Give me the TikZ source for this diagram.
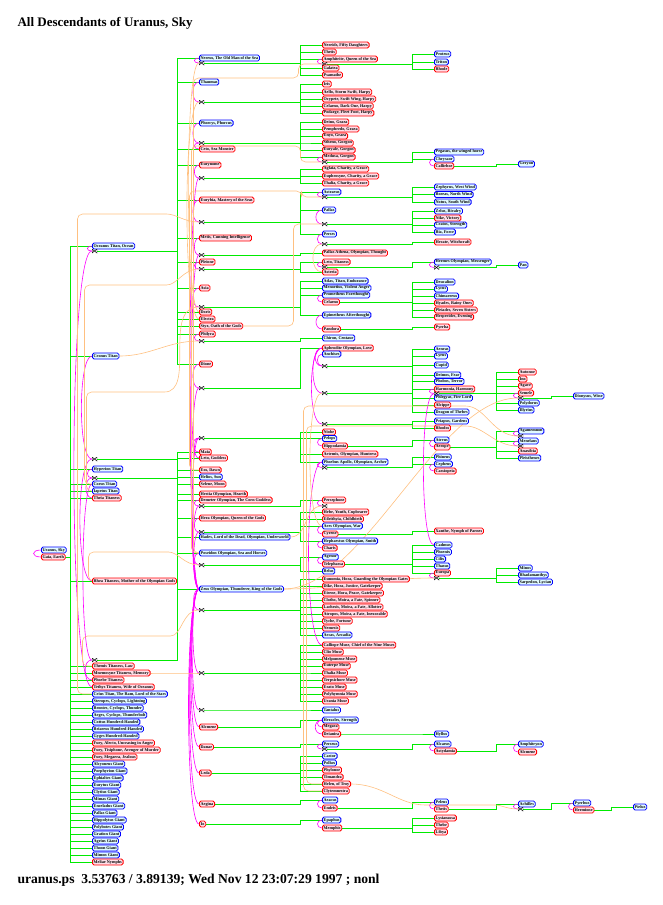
\documentclass[tikz,border=0pt]{standalone}
\usepackage{fontspec}
\setmainfont{Liberation Serif}
\usepackage{tikz}
\usetikzlibrary{calc}
\definecolor{maleline}{RGB}{0,0,255}
\definecolor{malefill}{RGB}{225,250,255}
\definecolor{femline}{RGB}{255,0,0}
\definecolor{femfill}{RGB}{255,222,232}
\definecolor{kingreen}{RGB}{0,235,0}
\definecolor{wedpink}{RGB}{255,0,255}
\definecolor{linkorange}{RGB}{255,192,128}
\pgfdeclarelayer{background}
\pgfsetlayers{background,main}
\newcommand{\tagfont}{\fontsize{4.2}{4.6}\selectfont\bfseries}
\tikzset{kin/.style = {draw=kingreen, line width=0.6pt},
  wed/.style = {draw=wedpink, line width=0.6pt},
  link/.style = {draw=linkorange, line width=0.6pt, rounded corners=5pt}
}

\begin{document}
\begin{tikzpicture}[x=1pt, y=-1pt]
\useasboundingbox (0,0) rectangle (662,905);
% vertices
\tikzstyle{male} = [rectangle, draw=maleline, fill=malefill, line width=0.8pt, rounded corners=1.6pt, inner xsep=1.3pt, inner ysep=0.3pt, minimum height=6pt, anchor=west, font=\tagfont]
\tikzstyle{female} = [male, draw=femline, fill=femfill]
\tikzstyle{wedding} = [rectangle, inner sep=0pt, minimum width=5pt, minimum height=4pt, path picture={\draw[black, line width=0.5pt] (path picture bounding box.south west) -- (path picture bounding box.north east) -- (path picture bounding box.south east) -- (path picture bounding box.north west) -- cycle;}]

\node[anchor=base west, font=\fontsize{13}{15}\selectfont\bfseries] (title) at (14,26) {All Descendants of Uranus, Sky};
\node[anchor=base west, font=\fontsize{13.6}{15}\selectfont\bfseries] (stamp) at (14,883) {uranus.ps\ \ 3.53763 / 3.89139; Wed Nov 12 23:07:29 1997 ; nonl};

% first generation
\node[male] (uranus) at (41,550) {Uranus, Sky};
\node[female] (gaia) at (41,557) {Gaia, Earth};

% second generation
\node[male] (oceanus) at (92,246) {Oceanus Titan, Ocean};
\node[wedding] (moc) at (94.5,251) {};
\node[male] (cronus) at (92,356) {Cronus Titan};
\node[wedding] (mcr) at (94.5,459) {};
\node[male] (hyperion) at (92,469) {Hyperion Titan};
\node[wedding] (mhy) at (94.5,478) {};
\node[male] (coeus) at (92,484) {Coeus Titan};
\node[male] (iapetus) at (92,491) {Iapetus Titan};
\node[female] (theia) at (92,498) {Theia Titaness};
\node[female] (rhea) at (92,581) {Rhea Titaness, Mother of the Olympian Gods};
\node[wedding] (mrh) at (94.5,660) {};
\node[female] (themis) at (92,666) {Themis Titaness, Law};
\node[female] (mnemosyne) at (92,673) {Mnemosyne Titaness, Memory};
\node[female] (phoebe) at (92,680) {Phoebe Titaness};
\node[female] (tethys) at (92,687) {Tethys Titaness, Wife of Oceanus};
\node[male] (crius) at (92,694) {Crius Titan, The Ram, Lord of the Stars};
\node[male] (steropes) at (92,701) {Steropes, Cyclops, Lightning};
\node[male] (brontes) at (92,708) {Brontes, Cyclops, Thunder};
\node[male] (arges) at (92,715) {Arges, Cyclops, Thunderbolt};
\node[male] (cottus) at (92,722) {Cottus Hundred-Handed};
\node[male] (briareus) at (92,729) {Briareus Hundred-Handed};
\node[male] (gyges) at (92,736) {Gyges Hundred-Handed};
\node[female] (alecto) at (92,743) {Fury, Alecto, Unceasing in Anger};
\node[female] (tisiphone) at (92,750) {Fury, Tisiphone, Avenger of Murder};
\node[female] (megaera) at (92,757) {Fury, Megaera, Jealous};
\foreach \g [count=\i from 0] in {Alcyoneus,Porphyrion,Ephialtes,Eurytus,Clytius,Mimas,Enceladus,Pallas,Hippolytus,Polybotes,Gration,Agrius,Thoon,Mimon}
  \node[male] (giant\i) at (92,764+7*\i) {\g\ Giant};
\node[female] (meliae) at (92,862) {Meliae Nymphs};

% third generation
\node[male] (nereus) at (199,58) {Nereus, The Old Man of the Sea};
\node[wedding] (m63) at (201.5,63) {};
\node[male] (thaumas) at (199,82) {Thaumas};
\node[wedding] (m102) at (201.5,102) {};
\node[male] (phorcys) at (199,123) {Phorcys, Phorcus};
\node[wedding] (m143) at (201.5,143) {};
\node[female] (ceto) at (199,149) {Ceto, Sea Monster};
\node[female] (eurynome) at (199,165) {Eurynome};
\node[wedding] (m178) at (201.5,178) {};
\node[female] (eurybia) at (199,200) {Eurybia, Mastery of the Seas};
\node[wedding] (m222) at (201.5,222) {};
\node[female] (metis) at (199,238) {Metis, Cunning Intelligence};
\node[wedding] (m255) at (201.5,255) {};
\node[female] (pleione) at (199,262) {Pleione};
\node[wedding] (m269) at (201.5,269) {};
\node[female] (asia) at (199,288) {Asia};
\node[wedding] (m307) at (201.5,307) {};
\node[female] (doris) at (199,312) {Doris};
\node[female] (electra) at (199,319) {Electra};
\node[female] (styx) at (199,326) {Styx, Oath of the Gods};
\node[female] (philyra) at (199,334) {Philyra};
\node[wedding] (m341) at (201.5,341) {};
\node[female] (dione) at (199,364) {Dione};
\node[wedding] (m388) at (201.5,388) {};
\node[wedding] (m438) at (201.5,438) {};
\node[female] (maia) at (199,452) {Maia};
\node[female] (leto) at (199,458) {Leto, Goddess};
\node[female] (eos) at (199,470) {Eos, Dawn};
\node[male] (helios) at (199,477) {Helios, Sun};
\node[female] (selene) at (199,484) {Selene, Moon};
\node[female] (hestia) at (199,494) {Hestia Olympian, Hearth};
\node[female] (demeter) at (199,500) {Demeter Olympian, The Corn Goddess};
\node[wedding] (m506) at (201.5,506) {};
\node[female] (hera) at (199,518) {Hera Olympian, Queen of the Gods};
\node[wedding] (m532) at (201.5,532) {};
\node[male] (hades) at (199,537) {Hades, Lord of the Dead, Olympian, Underworld};
\node[male] (poseidon) at (199,553) {Poseidon Olympian, Sea and Horses};
\node[wedding] (m565) at (201.5,565) {};
\node[male] (zeus) at (199,589) {Zeus Olympian, Thunderer, King of the Gods};
\node[wedding] (m610) at (201.5,610) {};
\node[wedding] (m673) at (201.5,673) {};
\node[wedding] (m710) at (201.5,710) {};
\node[female] (alcmene) at (199,727) {Alcmene};
\node[female] (danae) at (199,747) {Danae};
\node[female] (leda) at (199,773) {Leda};
\node[female] (aegina) at (199,804) {Aegina};
\node[female] (io) at (199,824) {Io};

% fourth generation
\node[female] (nereids) at (322,45) {Nereids, Fifty Daughters};
\node[female] (thetis) at (322,52) {Thetis};
\node[female] (amphitrite) at (322,59) {Amphitrite, Queen of the Sea};
\node[wedding] (m4a) at (324.5,64) {};
\node[female] (galatea) at (322,68) {Galatea};
\node[female] (psamathe) at (322,75) {Psamathe};
\node[female] (iris) at (322,84) {Iris};
\node[female] (aello) at (322,92) {Aello, Storm Swift, Harpy};
\node[female] (ocypete) at (322,99) {Ocypete, Swift Wing, Harpy};
\node[female] (celaeno) at (322,106) {Celaeno, Dark One, Harpy};
\node[female] (podarge) at (322,113) {Podarge, Fleet Foot, Harpy};
\node[female] (deino) at (322,122) {Deino, Graea};
\node[female] (pemphredo) at (322,129) {Pemphredo, Graea};
\node[female] (enyo) at (322,136) {Enyo, Graea};
\node[female] (stheno) at (322,143) {Stheno, Gorgon};
\node[female] (euryale) at (322,150) {Euryale, Gorgon};
\node[female] (medusa) at (322,157) {Medusa, Gorgon};
\node[wedding] (m4b) at (324.5,162) {};
\node[female] (aglaia) at (322,169) {Aglaia, Charity, a Grace};
\node[female] (euphrosyne) at (322,176) {Euphrosyne, Charity, a Grace};
\node[female] (thaliag) at (322,183) {Thalia, Charity, a Grace};
\node[male] (astraeus) at (322,192) {Astraeus};
\node[wedding] (m197) at (324.5,197) {};
\node[male] (pallas) at (322,210) {Pallas};
\node[wedding] (m224) at (324.5,224) {};
\node[male] (perses) at (322,234) {Perses};
\node[wedding] (m244) at (324.5,244) {};
\node[female] (athena) at (322,253) {Pallas Athena, Olympian, Thought};
\node[female] (leto4) at (322,262) {Leto, Titaness};
\node[wedding] (m267) at (324.5,267) {};
\node[female] (asteria) at (322,272) {Asteria};
\node[male] (atlas) at (322,281) {Atlas, Titan, Endurance};
\node[male] (menoetius) at (322,288) {Menoetius, Violent Anger};
\node[male] (prometheus) at (322,295) {Prometheus Forethought};
\node[female] (celaenop) at (322,302) {Celaeno};
\node[male] (epimetheus) at (322,315) {Epimetheus Afterthought};
\node[female] (pandora) at (322,329) {Pandora};
\node[male] (chiron) at (322,338) {Chiron, Centaur};
\node[female] (aphrodite) at (322,348) {Aphrodite Olympian, Love};
\node[male] (anchises) at (322,354) {Anchises};
\node[wedding] (m366) at (324.5,366) {};
\node[wedding] (m393) at (324.5,393) {};
\node[wedding] (m424) at (324.5,424) {};
\node[female] (niobe) at (322,432) {Niobe};
\node[male] (pelops) at (322,438.5) {Pelops};
\node[female] (hippodamia) at (322,446) {Hippodamia};
\node[female] (artemis) at (322,454) {Artemis, Olympian, Huntress};
\node[male] (apollo) at (322,462) {Phoebus Apollo, Olympian, Archer};
\node[wedding] (m467) at (324.5,467.5) {};
\node[female] (persephone) at (322,500) {Persephone};
\node[wedding] (m506b) at (324.5,506) {};
\node[female] (hebe) at (322,512) {Hebe, Youth, Cupbearer};
\node[female] (eileithyia) at (322,519) {Eileithyia, Childbirth};
\node[male] (ares) at (322,526) {Ares Olympian, War};
\node[female] (cyrene) at (322,534) {Cyrene};
\node[male] (hephaestus) at (322,541) {Hephaestus Olympian, Smith};
\node[female] (charis) at (322,548) {Charis};
\node[male] (agenor) at (322,557) {Agenor};
\node[female] (telephassa) at (322,564) {Telephassa};
\node[male] (belus) at (322,571) {Belus};
\node[female] (eunomia) at (322,579) {Eunomia, Hora, Guarding the Olympian Gates};
\node[female] (dike) at (322,586) {Dike, Hora, Justice, Gatekeeper};
\node[female] (eirene) at (322,593) {Eirene, Hora, Peace, Gatekeeper};
\node[female] (clotho) at (322,600) {Clotho, Moira, a Fate, Spinner};
\node[female] (lachesis) at (322,607) {Lachesis, Moira, a Fate, Allotter};
\node[female] (atropos) at (322,614) {Atropos, Moira, a Fate, Inexorable};
\node[female] (tyche) at (322,621) {Tyche, Fortune};
\node[female] (nemesis) at (322,628) {Nemesis};
\node[male] (arcas) at (322,635) {Arcas, Arcadia};
\node[female] (calliope) at (322,645) {Calliope Muse, Chief of the Nine Muses};
\node[female] (clio) at (322,652) {Clio Muse};
\node[female] (melpomene) at (322,659) {Melpomene Muse};
\node[female] (euterpe) at (322,666) {Euterpe Muse};
\node[female] (thaliam) at (322,673) {Thalia Muse};
\node[female] (terpsichore) at (322,680) {Terpsichore Muse};
\node[female] (erato) at (322,687) {Erato Muse};
\node[female] (polyhymnia) at (322,694) {Polyhymnia Muse};
\node[female] (urania) at (322,701) {Urania Muse};
\node[male] (tantalus) at (322,710) {Tantalus};
\node[male] (heracles) at (322,720) {Heracles, Strength};
\node[female] (megara) at (322,727) {Megara};
\node[female] (deianira) at (322,734) {Deianira};
\node[male] (perseus) at (322,744) {Perseus};
\node[wedding] (m749) at (324.5,749) {};
\node[male] (castor) at (322,756) {Castor};
\node[male] (pollux) at (322,763) {Pollux};
\node[female] (phylonoe) at (322,770) {Phylonoe};
\node[female] (timandra) at (322,777) {Timandra};
\node[female] (helen) at (322,784) {Helen, of Troy};
\node[female] (clytemnestra) at (322,791) {Clytemnestra};
\node[male] (aeacus) at (322,800) {Aeacus};
\node[female] (endeis) at (322,808) {Endeis};
\node[male] (epaphus) at (322,820) {Epaphus};
\node[female] (memphis) at (322,828) {Memphis};

% fifth generation
\node[male] (proteus) at (434,54) {Proteus};
\node[male] (triton) at (434,62) {Triton};
\node[female] (rhode) at (434,69) {Rhode};
\node[male] (pegasus) at (434,152) {Pegasus, the winged horse};
\node[male] (chrysaor) at (434,159) {Chrysaor};
\node[female] (callirhoe) at (434,166) {Callirhoe};
\node[male] (zephyrus) at (434,187) {Zephyrus, West Wind};
\node[male] (boreas) at (434,194.5) {Boreas, North Wind};
\node[male] (notus) at (434,202) {Notus, South Wind};
\node[male] (zelus) at (434,211) {Zelus, Rivalry};
\node[female] (nike) at (434,218) {Nike, Victory};
\node[male] (cratos) at (434,225) {Cratos, Strength};
\node[male] (bia) at (434,232) {Bia, Force};
\node[female] (hecate) at (434,242) {Hecate, Witchcraft};
\node[male] (hermes) at (434,262) {Hermes Olympian, Messenger};
\node[wedding] (m5h) at (436.5,267.5) {};
\node[male] (deucalion) at (434,282) {Deucalion};
\node[male] (lycus) at (434,289) {Lycus};
\node[male] (chimaereus) at (434,296) {Chimaereus};
\node[female] (hyades) at (434,303) {Hyades, Rainy Ones};
\node[female] (pleiades) at (434,310) {Pleiades, Seven Sisters};
\node[female] (hesperides) at (434,317) {Hesperides, Evening};
\node[female] (pyrrha) at (434,327) {Pyrrha};
\node[male] (aeneas) at (434,349) {Aeneas};
\node[male] (lyrus) at (434,356) {Lyrus};
\node[male] (cupid) at (434,365) {Cupid};
\node[male] (deimos) at (434,375) {Deimos, Fear};
\node[male] (phobos) at (434,381.5) {Phobos, Terror};
\node[female] (harmonia) at (434,389) {Harmonia, Harmony};
\node[wedding] (m5c) at (436.5,393.5) {};
\node[male] (phlegyas) at (434,398) {Phlegyas, Fire Lord};
\node[female] (alcippe) at (434,405) {Alcippe};
\node[male] (dragon) at (434,412) {Dragon of Thebes};
\node[male] (priapus) at (434,421) {Priapus, Gardens};
\node[female] (rhodos) at (434,428) {Rhodos};
\node[male] (atreus) at (434,440) {Atreus};
\node[female] (aerope) at (434,447) {Aerope};
\node[male] (phineus) at (434,457) {Phineus};
\node[male] (cepheus) at (434,464) {Cepheus};
\node[female] (cassiopeia) at (434,471) {Cassiopeia};
\node[female] (xanthe) at (434,531) {Xanthe, Nymph of Parnes};
\node[male] (cadmus) at (434,545) {Cadmus};
\node[male] (phoenix) at (434,552) {Phoenix};
\node[male] (cilix) at (434,559) {Cilix};
\node[male] (thasus) at (434,566) {Thasus};
\node[female] (europa) at (434,573) {Europa};
\node[wedding] (m577) at (436.5,578) {};
\node[male] (hyllus) at (434,734) {Hyllus};
\node[male] (alcaeus) at (434,744) {Alcaeus};
\node[female] (astydamia) at (434,751) {Astydamia};
\node[male] (peleus) at (434,802) {Peleus};
\node[female] (thetisn) at (434,809) {Thetis};
\node[female] (lysianassa) at (434,818) {Lysianassa};
\node[female] (thebe) at (434,825) {Thebe};
\node[female] (libya) at (434,832) {Libya};

% sixth generation and later
\node[male] (geryon) at (518,164) {Geryon};
\node[male] (pan) at (518,265) {Pan};
\node[female] (autonoe) at (518,372) {Autonoe};
\node[female] (ino) at (518,379) {Ino};
\node[female] (agave) at (518,386) {Agave};
\node[female] (semele) at (518,393) {Semele};
\node[wedding] (m6s) at (520.5,398) {};
\node[male] (polydorus) at (518,403) {Polydorus};
\node[male] (illyrius) at (518,410) {Illyrius};
\node[male] (agamemnon) at (518,431) {Agamemnon};
\node[wedding] (m6b) at (520.5,436) {};
\node[male] (menelaus) at (518,441) {Menelaus};
\node[wedding] (m6c) at (520.5,446) {};
\node[female] (anaxibia) at (518,451) {Anaxibia};
\node[male] (pleisthenes) at (518,458) {Pleisthenes};
\node[male] (minos) at (518,568) {Minos};
\node[male] (rhadamanthys) at (518,575) {Rhadamanthys};
\node[male] (sarpedon) at (518,582) {Sarpedon, Lycian};
\node[male] (amphitryon) at (518,744) {Amphitryon};
\node[female] (alcmenet) at (518,752) {Alcmene};
\node[male] (achilles) at (518,804) {Achilles};
\node[wedding] (m6a) at (520.5,809) {};
\node[male] (dionysus) at (573,396) {Dionysus, Wine};
\node[male] (pyrrhus) at (573,803) {Pyrrhus};
\node[female] (hermione) at (573,810) {Hermione};
\node[male] (molossus) at (633,807) {Pielus};

\begin{pgfonlayer}{background}
% children
\foreach \c in {oceanus,cronus,hyperion,coeus,iapetus,theia,rhea,themis,mnemosyne,phoebe,tethys,crius,steropes,brontes,arges,cottus,briareus,gyges,alecto,tisiphone,megaera,giant0,giant1,giant2,giant3,giant4,giant5,giant6,giant7,giant8,giant9,giant10,giant11,giant12,giant13,meliae}
  \draw[kin] (gaia.east) -| ([xshift=-22pt]\c.west) -- (\c.west);
\foreach \c in {nereus,thaumas,phorcys,ceto,eurynome,eurybia,metis,pleione,asia,doris,electra,styx,philyra,dione}
  \draw[kin] (moc.east) -| ([xshift=-22pt]\c.west) -- (\c.west);
\foreach \c in {hestia,demeter,hera,hades,poseidon,zeus}
  \draw[kin] (mcr.east) -| ([xshift=-22pt]\c.west) -- (\c.west);
\foreach \c in {eos,helios,selene}
  \draw[kin] (mhy.east) -| ([xshift=-22pt]\c.west) -- (\c.west);
\foreach \c in {maia,leto}
  \draw[kin] (mrh.east) -| ([xshift=-22pt]\c.west) -- (\c.west);

\foreach \m/\c in {m63/nereids,m63/thetis,m63/amphitrite,m63/galatea,m63/psamathe,
    m102/iris,m102/aello,m102/ocypete,m102/celaeno,m102/podarge,
    m143/deino,m143/pemphredo,m143/enyo,m143/stheno,m143/euryale,m143/medusa,
    m178/aglaia,m178/euphrosyne,m178/thaliag,m222/astraeus,m222/pallas,m222/perses,
    m255/athena,m269/leto4,m269/asteria,m307/atlas,m307/menoetius,m307/prometheus,m307/epimetheus,
    m341/chiron,m388/aphrodite,m438/niobe,m438/pelops,m438/artemis,m438/apollo,
    m506/persephone,m532/hebe,m532/eileithyia,m532/ares,m532/hephaestus,m565/agenor,m565/belus,
    m610/eunomia,m610/dike,m610/eirene,m610/clotho,m610/lachesis,m610/atropos,m610/tyche,m610/nemesis,m610/arcas,
    m673/calliope,m673/clio,m673/melpomene,m673/euterpe,m673/thaliam,m673/terpsichore,m673/erato,m673/polyhymnia,m673/urania,
    m710/tantalus,alcmene/heracles,danae/perseus,leda/castor,leda/pollux,leda/phylonoe,leda/timandra,leda/helen,leda/clytemnestra,
    aegina/aeacus,io/epaphus}
  \draw[kin] (\m.east) -| ([xshift=-22pt]\c.west) -- (\c.west);

\foreach \m/\c in {m4a/proteus,m4a/triton,m4a/rhode,m4b/pegasus,m4b/chrysaor,
    m197/zephyrus,m197/boreas,m197/notus,m224/zelus,m224/nike,m224/cratos,m224/bia,m244/hecate,m267/hermes,
    celaenop/deucalion,celaenop/lycus,celaenop/chimaereus,celaenop/hyades,celaenop/pleiades,celaenop/hesperides,
    pandora/pyrrha,m366/aeneas,m366/lyrus,m393/cupid,m393/deimos,m393/phobos,m393/harmonia,m393/phlegyas,m393/alcippe,m393/dragon,
    m424/priapus,m424/rhodos,hippodamia/atreus,m467/phineus,m467/cepheus,cyrene/xanthe,
    telephassa/cadmus,telephassa/phoenix,telephassa/cilix,telephassa/thasus,telephassa/europa,
    deianira/hyllus,m749/alcaeus,endeis/peleus,memphis/lysianassa,memphis/thebe,memphis/libya,
    callirhoe/geryon,m5h/pan,m5c/autonoe,m5c/ino,m5c/agave,m5c/semele,m5c/polydorus,m5c/illyrius,
    aerope/agamemnon,aerope/menelaus,aerope/anaxibia,aerope/pleisthenes,m577/minos,m577/rhadamanthys,m577/sarpedon,
    astydamia/amphitryon,thetisn/achilles,m6s/dionysus,m6a/pyrrhus,hermione/molossus}
  \draw[kin] (\m.east) -| ([xshift=-22pt]\c.west) -- (\c.west);

% marriages
\draw[wed] (uranus.west) .. controls +(-10,0) and +(-10,0) .. (gaia.west);
\draw[wed] (oceanus.west) .. controls +(-6,0) and +(-6,0) .. (moc.west);
\draw[wed] (tethys.west) .. controls +(-24,0) and +(-24,0) .. (moc.west);
\draw[wed] (cronus.west) .. controls +(-14,0) and +(-14,0) .. (mcr.west);
\draw[wed] (rhea.west) .. controls +(-16,0) and +(-16,0) .. (mcr.west);
\draw[wed] (hyperion.west) .. controls +(-6,0) and +(-6,0) .. (mhy.west);
\draw[wed] (theia.west) .. controls +(-8,0) and +(-8,0) .. (mhy.west);
\draw[wed] (coeus.west) .. controls +(-12,0) and +(-12,0) .. (mrh.west);
\draw[wed] (phoebe.west) .. controls +(-9,0) and +(-9,0) .. (mrh.west);

\foreach \a/\m/\d in {nereus/m63/6,thaumas/m102/8,phorcys/m143/8,ceto/m143/6,eurynome/m178/6,eurybia/m222/8,
    metis/m255/6,pleione/m269/6,asia/m307/8,philyra/m341/6,dione/m388/8,maia/m438/8,leto/m438/6,
    demeter/m506/6,hera/m532/6,poseidon/m565/6}
  \draw[wed] (\a.west) .. controls +(-\d,0) and +(-\d,0) .. (\m.west);
\foreach \m/\d in {m178/12,m255/11,m388/10,m438/9,m506/8,m532/7,m610/7,m673/8,m710/9,alcmene/10,danae/11,leda/12,aegina/13,io/14}
  \draw[wed] (zeus.west) .. controls +(-\d,0) and +(-\d,0) .. (\m.west);

\foreach \a/\m/\d in {amphitrite/m4a/6,medusa/m4b/6,astraeus/m197/6,pallas/m224/8,perses/m244/6,leto4/m267/6,
    prometheus/celaenop/6,epimetheus/pandora/8,anchises/m366/6,aphrodite/m366/9,aphrodite/m393/12,aphrodite/m424/14,
    pelops/hippodamia/6,apollo/m467/6,apollo/calliope/18,persephone/m506b/6,ares/cyrene/6,hephaestus/charis/6,
    agenor/telephassa/6,heracles/megara/6,heracles/deianira/9,perseus/m749/6,aeacus/endeis/6,epaphus/memphis/6,
    chrysaor/callirhoe/6,hermes/m5h/6,harmonia/m5c/6,cadmus/m5c/14,atreus/aerope/6,cepheus/cassiopeia/6,
    europa/m577/6,alcaeus/astydamia/6,peleus/thetisn/6,semele/m6s/6,agamemnon/m6b/6,menelaus/m6c/6,
    amphitryon/alcmenet/6,achilles/m6a/6,pyrrhus/hermione/6}
  \draw[wed] (\a.west) .. controls +(-\d,0) and +(-\d,0) .. (\m.west);

% spouses placed elsewhere
\draw[link] (doris.west) .. controls +(-14,0) and +(-14,0) .. (m63.west);
\draw[link] (electra.west) .. controls +(-16,0) and +(-16,0) .. (m102.west);
\draw[link] (poseidon.west) -| ($(m4a)+(-131,14)$) -| ($(m4a)+(-26,0)$) -- (m4a.west);
\draw[link] (poseidon.west) -| ($(m4b)+(-133,-16)$) -| ($(m4b)+(-24,0)$) -- (m4b.west);
\draw[link] (eos.west) -| ($(m197)+(-135,-6)$) -| ($(m197)+(-23,0)$) -- (m197.west);
\draw[link] (styx.east) -| ($(m224)+(-31,0)$) -- (m224.west);
\draw[link] (asteria.west) .. controls +(-12,0) and +(-12,0) .. (m244.west);
\draw[link] (coeus.west) -| ($(m269)+(-117,16)$) -- ($(m269)+(-40,16)$) to[out=0,in=180] (m269.west);
\draw[link] (iapetus.west) -| ($(m307)+(-115,85)$) -- ($(m307)+(-42,85)$) to[out=0,in=180] (m307.west);
\draw[link] (cronus.east) to[out=0,in=180] (m341.west);
\draw[link] (themis.west) -| ($(m610)+(-119,26)$) -- ($(m610)+(-36,26)$) to[out=0,in=180] (m610.west);
\draw[link] (mnemosyne.east) to[out=0,in=180] (m673.west);
\draw[link] (crius.west) -| ($(m222)+(-124,-8)$) -- ($(m222)+(-40,-8)$) to[out=0,in=180] (m222.west);
\draw[link] (rhea.west) -| ($(m565)+(-113,-13)$) -- ($(m565)+(-38,-13)$) to[out=0,in=180] (m565.west);
\draw[link] (ares.west) .. controls +(-16,0) and +(-16,0) .. (m393.west);
\draw[link] (hades.east) to[out=0,in=180] (m506b.west);
\draw[link] (helen.west) -| ($(m6c)+(-214,-20)$) -- ($(m6c)+(-60,-20)$) to[out=0,in=180] (m6c.west);
\draw[link] (clytemnestra.west) -| ($(m6b)+(-217,-30)$) -- ($(m6b)+(-60,-30)$) to[out=0,in=180] (m6b.west);
\draw[link] (zeus.east) to[out=0,in=180] (m577.west);
\draw[link] (zeus.east) .. controls +(80,0) and +(-80,0) .. (m6s.west);
\draw[link] (helen.east) to[out=0,in=180] ($(m6a)+(-90,-4)$) -- ($(m6a)+(-30,-4)$) to[out=0,in=180] (m6a.west);
\end{pgfonlayer}
\end{tikzpicture}
\end{document}
